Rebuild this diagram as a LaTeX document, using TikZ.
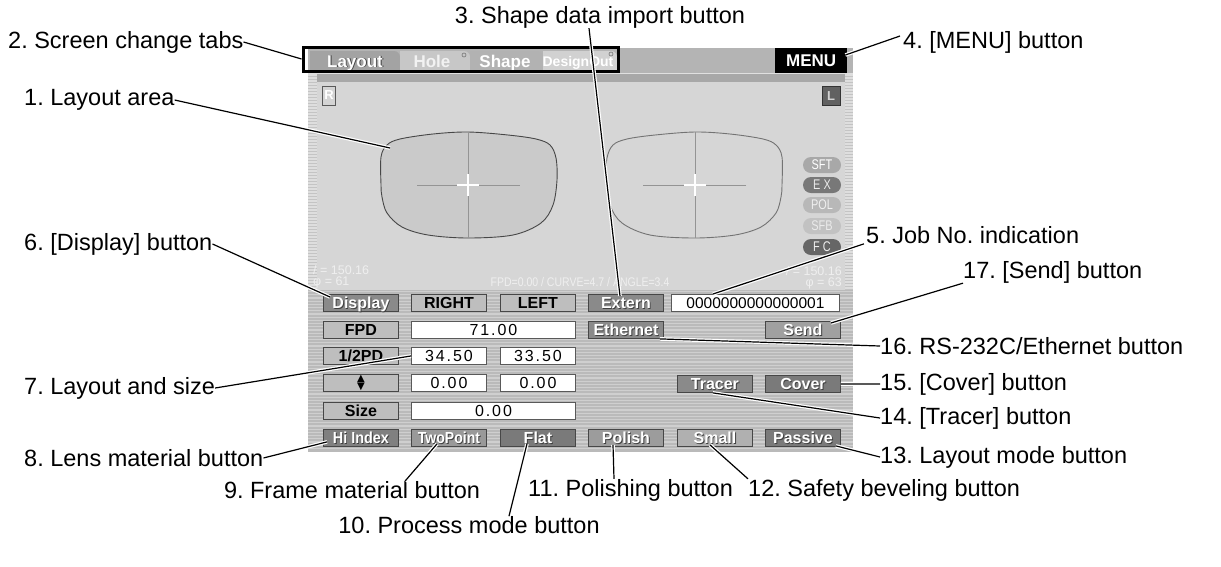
\documentclass[tikz,border=0pt]{standalone}
\usepackage{fontspec}
\setmainfont{Liberation Sans}
\newfontfamily\symfont{DejaVu Sans}
\usetikzlibrary{calc}

\definecolor{barbg}{HTML}{B4B4B4}
\definecolor{bandbg}{HTML}{A8A8A8}
\definecolor{areabg}{HTML}{D6D6D6}
\definecolor{panelbg}{HTML}{BABABA}
\definecolor{panelstripe}{HTML}{CFCFCF}
\definecolor{edgebg}{HTML}{C4C4C4}
\definecolor{edgestripe}{HTML}{DEDEDE}
\definecolor{btnlight}{HTML}{BEBEBE}
\definecolor{btndark}{HTML}{8A8A8A}
\definecolor{btnmid}{HTML}{A0A0A0}
\definecolor{btndeep}{HTML}{7A7A7A}
\definecolor{btnpale}{HTML}{B0B0B0}
\definecolor{lensfill}{HTML}{CACACA}
\definecolor{faint}{HTML}{EFEFEF}

% white lettering with a dark drop outline, as on the dark keys
\newcommand\emb[1]{\leavevmode\rlap{\kern0.9pt\raisebox{-0.9pt}{\textcolor{black!75}{#1}}}#1}

\begin{document}
\frenchspacing
\begin{tikzpicture}[x=1pt,y=-1pt,
  lbl/.style={font=\fontsize{23.5}{27}\selectfont, inner sep=0pt},
  leader/.style={draw=black, line width=1.2pt, preaction={draw=white, line width=3.6pt}},
  btn/.style={draw=black!72, line width=0.9pt, minimum width=75pt, minimum height=17pt,
    inner sep=0pt, anchor=north west, text height=11.6pt, text depth=0pt,
    font=\fontsize{16}{16}\selectfont\bfseries},
  lbtn/.style={btn, fill=btnlight, text=black},
  dbtn/.style={btn, text=white},
  field/.style={draw=black!65, fill=white, line width=0.9pt, minimum height=17pt,
    inner sep=0pt, anchor=north west, text height=11.4pt, text depth=0pt,
    font=\fontsize{16}{16}\selectfont\addfontfeature{LetterSpace=12}},
  pill/.style={rounded corners=8pt, minimum width=38pt, minimum height=16pt,
    inner sep=0pt, font=\fontsize{14}{14}\selectfont},
  tabtext/.style={text=white, inner sep=0pt, text height=12pt, text depth=0pt,
    font=\fontsize{17}{17}\selectfont\bfseries},
  faintt/.style={text=faint, inner sep=0pt, font=\fontsize{12.5}{12.5}\selectfont},
]
\useasboundingbox (0,0) rectangle (1221,566);
\fill[white] (0,0) rectangle (1221,566);

% ---------- screen frame ----------
\fill[barbg] (308,48) rectangle (853,73);
\fill[bandbg] (308,74) rectangle (853,82);
\draw[white!88!black, line width=1pt] (308,73.5) -- (853,73.5);
\fill[areabg] (308,82) rectangle (853,290);
\fill[edgebg] (308,74) rectangle (317,290);
\fill[edgebg] (845,74) rectangle (853,290);
\foreach \yy in {75,78,...,289} {
  \draw[edgestripe, line width=1.1pt] (308,\yy) -- (317,\yy);
  \draw[edgestripe, line width=1.1pt] (845,\yy) -- (853,\yy);
}
\fill[panelbg] (308,290) rectangle (853,452);
\foreach \yy in {291.5,294.7,...,451} \draw[panelstripe, line width=1.2pt] (308,\yy) -- (853,\yy);

% ---------- tabs ----------
\fill[black!36] (310,71) -- (310,51) -- (394,51) to[out=0,in=90] (400,57) -- (400,71) -- cycle;
\fill[black!22] (400,71) -- (400,51) -- (464,51) to[out=0,in=90] (470,57) -- (470,71) -- cycle;
\fill[black!30] (470,71) -- (470,51) -- (537,51) to[out=0,in=90] (543,57) -- (543,71) -- cycle;
\fill[black!18] (543,71) -- (543,51) -- (611,51) to[out=0,in=90] (617,57) -- (617,71) -- cycle;
\draw[black!55, line width=0.6pt] (464,55) circle (2);
\draw[black!55, line width=0.6pt] (611,54) circle (2);
\node[tabtext] (tlayout) at (355,61) {\emb{Layout}};
\node[tabtext, text=white!95!black] (thole) at (432,61) {Hole};
\node[tabtext] (tshape) at (505,61) {Shape};
\node[tabtext, text height=10pt, font=\fontsize{14}{14}\selectfont\bfseries] (tdesign) at (578,61) {DesignOut};
\node[draw=black, line width=3pt, minimum width=315pt, minimum height=24pt, inner sep=0pt] (tabs) at (460.5,59) {};
\node[fill=black, text=white, minimum width=72pt, minimum height=25pt, inner sep=0pt,
  anchor=north west, font=\fontsize{17}{17}\selectfont\bfseries] (menu) at (775,48) {MENU};

% ---------- layout area ----------
\node[draw=black!65, fill=black!17, text=white, minimum width=13pt, minimum height=19pt,
  inner sep=0pt, font=\fontsize{13}{13}\selectfont\bfseries] (rbox) at (329,95.5) {R};
\node[draw=black!80, fill=black!62, text=black!18, minimum width=18pt, minimum height=19pt,
  inner sep=0pt, font=\fontsize{13}{13}\selectfont\bfseries] (lbox) at (831,96) {L};

\foreach \cx/\sx/\fc/\dc in {468/1/lensfill/black!72, 695/-1/areabg/black!55} {
  \begin{scope}[shift={(\cx,185)}, xscale=\sx]
    \draw[\dc, fill=\fc, line width=0.9pt] plot[smooth cycle, tension=0.55] coordinates {
      (-87,0) (-87,-28) (-81,-40) (-68,-46) (-35,-51) (0,-53) (40,-50) (68,-46)
      (82,-40) (88,-27) (89,-5) (85,20) (73,38) (45,50) (0,53) (-40,50) (-66,42)
      (-81,28) (-86,12)};
    \draw[black!42, line width=0.8pt] (0,-53) -- (0,53);
    \draw[black!42, line width=0.8pt] (-51,0) -- (52,0);
    \draw[white, line width=1.8pt] (-11,0) -- (11,0) (0,-11) -- (0,11);
  \end{scope}
}

\node[pill, fill=black!34, text=white] (psft) at (822,165) {\scalebox{0.78}[1]{SFT}};
\node[pill, fill=black!53, text=black!8] (pex) at (822,185) {\scalebox{0.78}[1]{E X}};
\node[pill, fill=black!28, text=black!6] (ppol) at (822,205) {\scalebox{0.78}[1]{POL}};
\node[pill, fill=black!24, text=black!8] (psfb) at (822,226) {\scalebox{0.78}[1]{SFB}};
\node[pill, fill=black!60, text=black!6] (pfc) at (822,247) {\scalebox{0.78}[1]{F C}};

\node[faintt, anchor=west] (circr) at (313,270) {/ = 150.16};
\node[faintt, anchor=west] (diar) at (313,282) {φ = 61};
\node[faintt, anchor=east] (circl) at (842,271) {/ = 150.16};
\node[faintt, anchor=east] (dial) at (842,283) {φ = 63};
\node[faintt] (params) at (580,282) {\scalebox{0.84}[1]{FPD=0.00 / CURVE=4.7 / ANGLE=3.4}};

% ---------- control panel ----------
\node[dbtn, fill=btndark] (display) at (323,294) {\emb{Display}};
\node[lbtn] (right) at (411,294) {RIGHT};
\node[lbtn] (left) at (500,294) {LEFT};
\node[dbtn, fill=btndark] (extern) at (588,294) {\emb{Extern}};
\node[field, minimum width=168pt, font=\fontsize{15.5}{16}\selectfont] (job) at (671,294) {0000000000000001};

\node[lbtn] (fpd) at (323,321) {FPD};
\node[field, minimum width=164pt] (fpdval) at (411,321) {71.00};
\node[dbtn, fill=btndark] (ethernet) at (588,321) {\emb{Ethernet}};
\node[dbtn, fill=btnmid] (send) at (765,321) {\emb{Send}};

\node[lbtn] (halfpd) at (323,347) {1/2PD};
\node[field, minimum width=75pt] (pdr) at (411,347) {34.50};
\node[field, minimum width=75pt] (pdl) at (500,347) {33.50};

\node[lbtn, text height=, text depth=, font=\symfont\fontsize{10}{7.6}\selectfont, align=center] (height) at (323,374) {▲\\▼};
\node[field, minimum width=75pt] (htr) at (411,374) {0.00};
\node[field, minimum width=75pt] (htl) at (500,374) {0.00};
\node[dbtn, fill=btndark] (tracer) at (677,375) {\emb{Tracer}};
\node[dbtn, fill=btndeep] (cover) at (765,375) {\emb{Cover}};

\node[lbtn] (size) at (323,402) {Size};
\node[field, minimum width=164pt] (sizeval) at (411,402) {0.00};

\node[dbtn, fill=black!50] (hiindex) at (323,429) {\emb{\scalebox{0.9}[1]{Hi Index}}};
\node[dbtn, fill=black!40] (twopoint) at (411,429) {\emb{\scalebox{0.88}[1]{TwoPoint}}};
\node[dbtn, fill=btndeep] (flat) at (500,429) {\emb{Flat}};
\node[dbtn, fill=black!39] (polish) at (588,429) {\emb{Polish}};
\node[dbtn, fill=btnpale] (small) at (677,429) {\emb{Small}};
\node[dbtn, fill=btndeep] (passive) at (765,429) {\emb{Passive}};

% ---------- callout labels ----------
\node[lbl, anchor=west] (l2) at (8,42) {2. Screen change tabs};
\node[lbl, anchor=west] (l1) at (24,100) {1. Layout area};
\node[lbl, anchor=west] (l6) at (24,244) {6. [Display] button};
\node[lbl, anchor=west] (l7) at (24,388) {7. Layout and size};
\node[lbl, anchor=west] (l8) at (24,458) {8. Lens material button};
\node[lbl] (l3) at (600,17) {3. Shape data import button};
\node[lbl, anchor=west] (l4) at (903,42) {4. [MENU] button};
\node[lbl, anchor=west] (l5) at (866,235) {5. Job No. indication};
\node[lbl, anchor=west] (l17) at (963,272) {17. [Send] button};
\node[lbl, anchor=west] (l16) at (880,346) {16. RS-232C/Ethernet button};
\node[lbl, anchor=west] (l15) at (880,384) {15. [Cover] button};
\node[lbl, anchor=west] (l14) at (880,418) {14. [Tracer] button};
\node[lbl, anchor=west] (l13) at (880,457) {13. Layout mode button};
\node[lbl] (l9) at (352,490) {9. Frame material button};
\node[lbl] (l10) at (469,525) {10. Process mode button};
\node[lbl, anchor=west] (l11) at (528,490) {11. Polishing button};
\node[lbl, anchor=west] (l12) at (748,490) {12. Safety beveling button};

\coordinate (lensedge) at (390,148);

% ---------- leader lines ----------
\draw[leader] (l2.east) -- (tabs.west);
\draw[leader] (l1.east) -- (lensedge);
\draw[leader] (l6.east) -- ($(display.north west)+(7,3)$);
\draw[leader] (l7.east) -- (pdr.west);
\draw[leader] (l8.east) -- ($(hiindex.south west)+(4,-5)$);
\draw[leader] ($(l3.south)+(-11,0)$) -- ($(extern.north west)+(32,2)$);
\draw[leader] ($(l4.west)+(-3,-6)$) -- ($(menu.north east)+(-2,7)$);
\draw[leader] ($(l5.south west)+(-2,0)$) -- ($(job.north west)+(42,0)$);
\draw[leader] (l17.south west) -- ($(send.north east)+(-10,2)$);
\draw[leader] (l16.west) -- ($(ethernet.south east)+(-4,0)$);
\draw[leader] (l15.west) -- (cover.east);
\draw[leader] (l14.west) -- ($(tracer.south)+(-2,0)$);
\draw[leader] (l13.west) -- ($(passive.south east)+(-5,-1)$);
\draw[leader] ($(l9.north)+(53,0)$) -- ($(twopoint.south west)+(26,-3)$);
\draw[leader] ($(l10.north)+(40,0)$) -- ($(flat.south west)+(27,-3)$);
\draw[leader] ($(l11.north west)+(86,0)$) -- ($(polish.south west)+(25,-2)$);
\draw[leader] (l12.north west) -- ($(small.south west)+(33,-2)$);
\end{tikzpicture}
\end{document}
